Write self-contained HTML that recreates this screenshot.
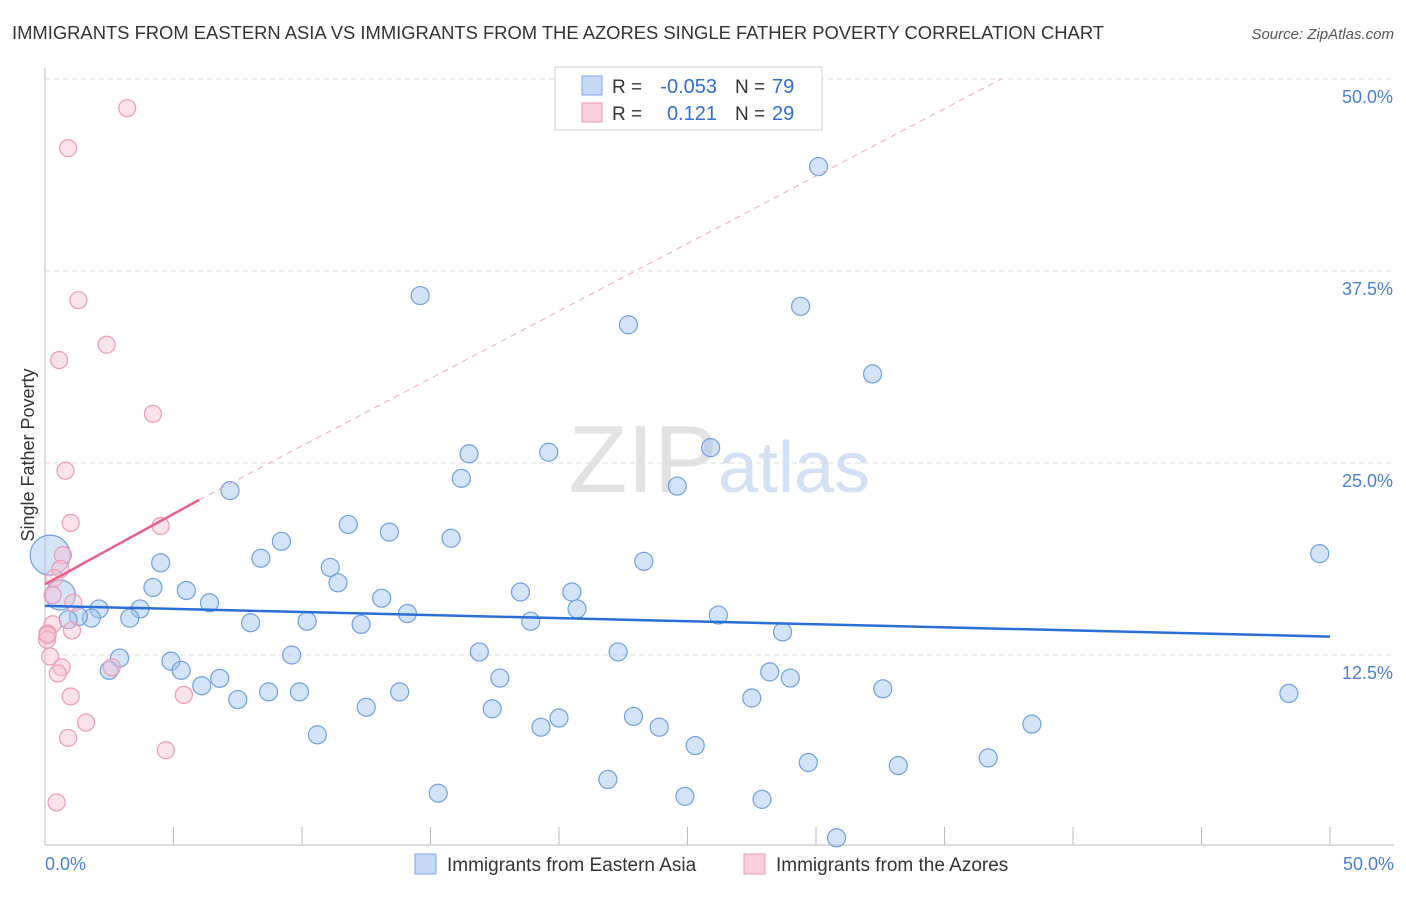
<!DOCTYPE html>
<html><head><meta charset="utf-8"><style>
body{margin:0;background:#fff;font-family:"Liberation Sans",sans-serif;}
svg text{font-family:"Liberation Sans",sans-serif;}
</style></head><body>
<svg id="c" width="1406" height="892" xmlns="http://www.w3.org/2000/svg">
<text x="12" y="39" font-size="18.4" fill="#333" textLength="1092">IMMIGRANTS FROM EASTERN ASIA VS IMMIGRANTS FROM THE AZORES SINGLE FATHER POVERTY CORRELATION CHART</text>
<text x="1394" y="39" font-size="15" fill="#555" text-anchor="end" font-style="italic">Source: ZipAtlas.com</text>
<text x="718" y="492" font-size="96" fill="#e2e2e2" text-anchor="end" font-family="Liberation Serif">ZIP</text>
<text x="718" y="492" font-size="72" fill="#d3e1f4">atlas</text>
<g id="grid"></g><g id="marks"></g><g id="lines"></g>
<text transform="translate(34,455) rotate(-90)" font-size="18" fill="#333" text-anchor="middle">Single Father Poverty</text>
<text x="45" y="870" font-size="18" fill="#4a7fd4">0.0%</text>
<text x="1394" y="870" font-size="18" fill="#4a7fd4" text-anchor="end">50.0%</text>
<g>
<rect x="555" y="67" width="267" height="63" fill="#fff" stroke="#ccc"/>
<rect x="582" y="76" width="20" height="19" fill="#c5d9f5" stroke="#7aa6e6"/>
<rect x="582" y="103" width="20" height="19" fill="#fbd0dc" stroke="#ee9ab3"/>
<text x="612" y="93" font-size="19" fill="#333">R =</text>
<text x="717" y="93" font-size="20" fill="#2f6fd6" text-anchor="end">-0.053</text>
<text x="735" y="93" font-size="19" fill="#333">N =</text>
<text x="772" y="93" font-size="20" fill="#2f6fd6">79</text>
<text x="612" y="120" font-size="19" fill="#333">R =</text>
<text x="717" y="120" font-size="20" fill="#2f6fd6" text-anchor="end">0.121</text>
<text x="735" y="120" font-size="19" fill="#333">N =</text>
<text x="772" y="120" font-size="20" fill="#2f6fd6">29</text>
</g>
<g>
<rect x="415" y="854" width="21" height="20" fill="#c5d9f5" stroke="#7aa6e6"/>
<text x="447" y="871" font-size="19" fill="#333">Immigrants from Eastern Asia</text>
<rect x="744" y="854" width="21" height="20" fill="#fbd0dc" stroke="#ee9ab3"/>
<text x="776" y="871" font-size="19" fill="#333">Immigrants from the Azores</text>
</g>
</svg>
<script>
const yTicks=[12.5,25,37.5,50];
const xTicks=[5,10,15,20,25,30,35,40,45,50];
const blueX=[30.1,14.6,22.7,29.4,32.2,25.9,16.5,19.6,16.2,24.6,7.2,11.8,13.4,15.8,9.2,8.4,4.5,23.3,11.1,11.4,4.2,5.5,18.5,20.5,13.1,6.4,2.1,3.7,20.7,14.1,26.2,3.3,1.8,1.3,0.9,8.0,10.2,12.3,18.9,28.7,2.9,9.6,16.9,22.3,4.9,2.5,5.3,28.2,29.0,6.8,6.1,17.7,8.7,9.9,32.6,7.5,27.5,48.4,13.8,12.5,17.4,22.9,20.0,19.3,23.9,38.4,10.6,25.3,29.7,36.7,33.2,21.9,15.3,24.9,27.9,30.8,49.6,0.2,0.6];
const blueY=[44.3,35.9,34.0,35.2,30.8,26.0,25.6,25.7,24.0,23.5,23.2,21.0,20.5,20.1,19.9,18.8,18.5,18.6,18.2,17.2,16.9,16.7,16.6,16.6,16.2,15.9,15.5,15.5,15.5,15.2,15.1,14.9,14.9,15.0,14.8,14.6,14.7,14.5,14.7,14.0,12.3,12.5,12.7,12.7,12.1,11.5,11.5,11.4,11.0,10.98,10.5,11.0,10.1,10.1,10.3,9.6,9.7,10.0,10.1,9.1,9.0,8.5,8.4,7.8,7.8,8.0,7.3,6.6,5.5,5.8,5.3,4.4,3.5,3.3,3.1,0.6,19.1,19.0,16.4];
const blueR=[9,9,9,9,9,9,9,9,9,9,9,9,9,9,9,9,9,9,9,9,9,9,9,9,9,9,9,9,9,9,9,9,9,9,9,9,9,9,9,9,9,9,9,9,9,9,9,9,9,9,9,9,9,9,9,9,9,9,9,9,9,9,9,9,9,9,9,9,9,9,9,9,9,9,9,9,9,20,15];
const pinkX=[3.2,0.9,1.3,2.4,0.55,4.2,0.8,1.0,4.5,0.7,0.6,0.35,0.3,1.1,0.3,1.05,0.1,0.08,0.2,0.65,2.6,0.5,1.0,5.4,1.6,0.9,4.7,0.45,0.1];
const pinkY=[48.1,45.5,35.6,32.7,31.7,28.2,24.5,21.1,20.9,19.0,18.1,17.5,16.4,15.9,14.5,14.1,13.9,13.5,12.4,11.7,11.7,11.3,9.8,9.9,8.1,7.1,6.3,2.9,13.8];
const blueTrend=[15.7,13.7];
const pinkTrend=[17.1,22.6];
const pinkDashEndX=37.2;
const X=v=>45+v*25.7, Y=v=>847-v*15.36;
const NS="http://www.w3.org/2000/svg";
function mk(tag,attrs,parent){const e=document.createElementNS(NS,tag);for(const k in attrs)e.setAttribute(k,attrs[k]);document.getElementById(parent).appendChild(e);return e;}
let ax=mk('line',{x1:45,y1:68,x2:45,y2:845,stroke:'#bbb'},'grid');


let bx=mk('line',{x1:45,y1:845,x2:1394,y2:845,stroke:'#bbb'},'grid');


yTicks.forEach(t=>{
 const g=mk('line',{x1:45,y1:Y(t),x2:1394,y2:Y(t),stroke:'#ddd','stroke-dasharray':'5,4'},'grid');
 
 
 const l=mk('text',{x:1393,y:Y(t)+24,'font-size':18,fill:'#4a7fd4','text-anchor':'end'},'grid');
 l.textContent=t.toFixed(1)+'%';
 
 
});
xTicks.forEach(t=>{
 const k=mk('line',{x1:X(t),y1:827,x2:X(t),y2:845,stroke:'#bbb'},'grid');
 
 
});
blueX.forEach((v,i)=>{
 const c=mk('circle',{cx:X(v),cy:Y(blueY[i]),r:blueR[i],fill:'rgba(160,195,240,0.45)',stroke:'#6f9fe0','stroke-width':1.2},'marks');
 
 
});
pinkX.forEach((v,i)=>{
 const c=mk('circle',{cx:X(v),cy:Y(pinkY[i]),r:8.5,fill:'rgba(248,190,208,0.45)',stroke:'#ee9ab3','stroke-width':1.2},'marks');
 
 
});
const bl=mk('line',{x1:X(0),y1:Y(blueTrend[0]),x2:X(50),y2:Y(blueTrend[1]),stroke:'#2a6fd6','stroke-width':2.5},'lines');


const pd=mk('line',{x1:X(6),y1:Y(pinkTrend[1]),x2:X(pinkDashEndX),y2:Y(50),stroke:'#f0a8bd','stroke-width':1,'stroke-dasharray':'6,5'},'lines');


const pl=mk('line',{x1:X(0),y1:Y(pinkTrend[0]),x2:X(6),y2:Y(pinkTrend[1]),stroke:'#e8608a','stroke-width':2.5},'lines');


</script>
</body></html>
